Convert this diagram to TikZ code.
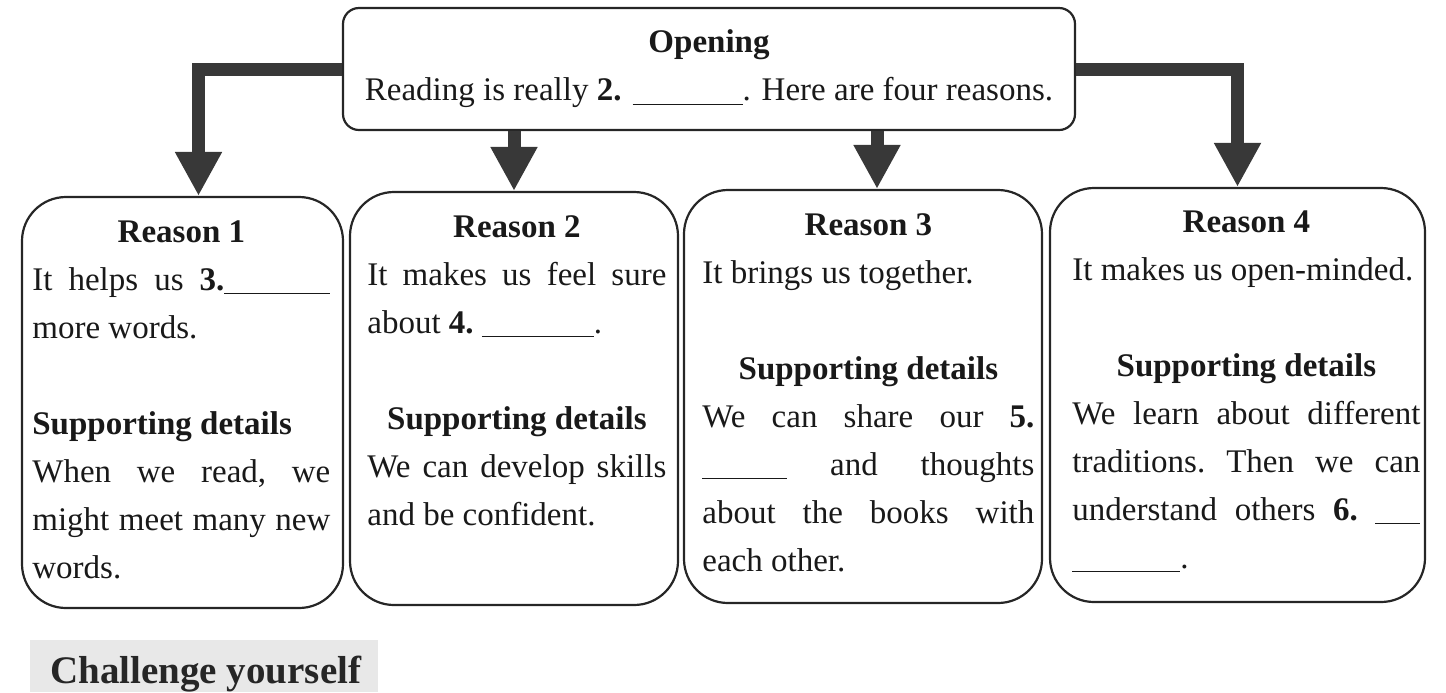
\documentclass[tikz,border=0pt]{standalone}
\usepackage{fontspec}
\setmainfont{Liberation Serif}
\usetikzlibrary{arrows.meta,positioning}

\newcommand{\blank}[1]{\rule[-2pt]{#1}{0.6pt}}

\begin{document}
\begin{tikzpicture}[x=0.5pt,y=-0.5pt,
    box/.style={draw=black!85,line width=1.1pt,rounded corners=22pt,inner sep=0pt},
    boxtext/.style={anchor=base west,inner sep=0pt,align=justify,text=black!90,
      font=\fontsize{16.5}{24}\selectfont\frenchspacing},
    flow/.style={draw=black!78,line width=6.5pt,line join=miter,
      -{Triangle[width=22pt,length=22pt]}}]
        \useasboundingbox (0,0) rectangle (1446,692);
        % Opening box
        \node[box,rounded corners=8pt,minimum width=366pt,minimum height=61pt,
          align=center,text=black!90,font=\fontsize{16.5}{24}\selectfont] (open) at (709,69)
          {\textbf{Opening}\\ Reading is really \textbf{2.} \blank{55pt}. Here are four reasons.};
        % Reason boxes
        \node[box,minimum width=160.5pt,minimum height=205.5pt] (r1) at (182.5,402.5) {};
        \node[box,minimum width=164pt,minimum height=206.5pt] (r2) at (514,398.5) {};
        \node[box,minimum width=179pt,minimum height=206.5pt] (r3) at (863,396.5) {};
        \node[box,minimum width=187.5pt,minimum height=207pt] (r4) at (1237.5,395) {};
        % Arrows from the opening
        \coordinate (a1) at ([xshift=8pt]r1.north);
        \coordinate (a3) at ([xshift=7pt]r3.north);
        \draw[flow] (open.west) -| (a1);
        \draw[flow] (open.south -| r2.north) -- (r2.north);
        \draw[flow] (open.south -| a3) -- (a3);
        \draw[flow] (open.east) -| (r4.north);
        % Texts in the boxes
        \node[boxtext,text width=149pt] (t1) at (32,242) {%
          {\centering\bfseries Reason 1\par}
          It helps us \textbf{3.}\blank{53pt}\linebreak more words.\par
          \vspace{24pt}
          \textbf{Supporting details}\par
          When we read, we\linebreak might meet many new\linebreak words.};
        \node[boxtext,text width=149.5pt] (t2) at (367,237) {%
          {\centering\bfseries Reason 2\par}
          It makes us feel sure\linebreak about \textbf{4.} \blank{56pt}.\par
          \vspace{24pt}
          {\centering\bfseries Supporting details\par}
          We can develop skills\linebreak and be confident.};
        \node[boxtext,text width=166pt] (t3) at (702,235) {%
          {\centering\bfseries Reason 3\par}
          It brings us together.\par
          \vspace{24pt}
          {\centering\bfseries Supporting details\par}
          We can share our \textbf{5.}\linebreak \blank{42.5pt} and thoughts\linebreak
          about the books with\linebreak each other.};
        \node[boxtext,text width=174pt] (t4) at (1072,232) {%
          {\centering\bfseries Reason 4\par}
          It makes us open-minded.\par
          \vspace{24pt}
          {\centering\bfseries Supporting details\par}
          We learn about different\linebreak traditions. Then we can\linebreak
          understand others \textbf{6.} \blank{22.5pt}\linebreak \blank{54pt}.};
        % Heading below
        \fill[black!9] (30,640) rectangle (378,692);
        \node[anchor=base west,inner sep=0pt,text=black!85,
          font=\fontsize{19.5}{24}\selectfont\bfseries] (chal) at (50,683) {Challenge yourself};
    \end{tikzpicture}
\end{document}
